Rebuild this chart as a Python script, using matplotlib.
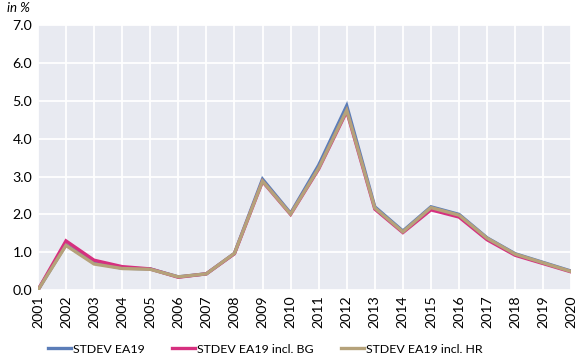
import matplotlib
matplotlib.use("Agg")
import matplotlib.pyplot as plt

years = [str(y) for y in range(2001, 2021)]
stdev_ea19 = [0.0, 1.20, 0.72, 0.58, 0.56, 0.35, 0.43, 0.97, 2.93, 2.03, 3.30, 4.87,
              2.20, 1.56, 2.20, 2.00, 1.38, 0.96, 0.73, 0.50]
stdev_bg = [0.0, 1.30, 0.79, 0.62, 0.56, 0.34, 0.43, 0.96, 2.87, 2.00, 3.20, 4.72,
            2.14, 1.52, 2.12, 1.93, 1.33, 0.92, 0.70, 0.48]
stdev_hr = [0.0, 1.18, 0.69, 0.57, 0.55, 0.35, 0.43, 0.97, 2.88, 2.01, 3.22, 4.75,
            2.17, 1.54, 2.18, 1.98, 1.37, 0.95, 0.72, 0.49]
labels = ["STDEV EA19", "STDEV EA19 incl. BG", "STDEV EA19 incl. HR"]
colors = ["#5B7DB8", "#D6307F", "#B5A27A"]
yticks = [0.0, 1.0, 2.0, 3.0, 4.0, 5.0, 6.0, 7.0]

plt.rcParams["font.family"] = ["Lato", "DejaVu Sans"]

fig = plt.figure(figsize=(5.83, 3.64), dpi=100)
ax = fig.add_axes([0.065, 0.203, 0.915, 0.728])
ax.set_facecolor("#E8EAF1")

x = list(range(len(years)))
for series, lab, col in zip([stdev_ea19, stdev_bg, stdev_hr], labels, colors):
    ax.plot(x, series, color=col, lw=2.4, label=lab, solid_joinstyle="miter")

ax.set_xlim(0, len(years) - 1)
ax.set_ylim(0, 7)
ax.set_yticks(yticks)
ax.set_yticklabels([f"{v:.1f}" for v in yticks], fontsize=10.2)
ax.set_xticks(x)
ax.set_xticklabels(years, rotation=90, fontsize=10.2)
ax.grid(True, color="white", lw=1.3)
ax.set_axisbelow(True)
for s in ax.spines.values():
    s.set_visible(False)
ax.tick_params(length=0, pad=4)

fig.text(0.012, 0.995, "in %", fontsize=9.5, style="italic", va="top", ha="left")

fig.legend(loc="lower center", ncol=3, frameon=False, fontsize=8.9,
           bbox_to_anchor=(0.455, -0.005), handlelength=1.9, handletextpad=0.15,
           columnspacing=2.2)

fig.savefig("out.png", dpi=100, facecolor="white")
